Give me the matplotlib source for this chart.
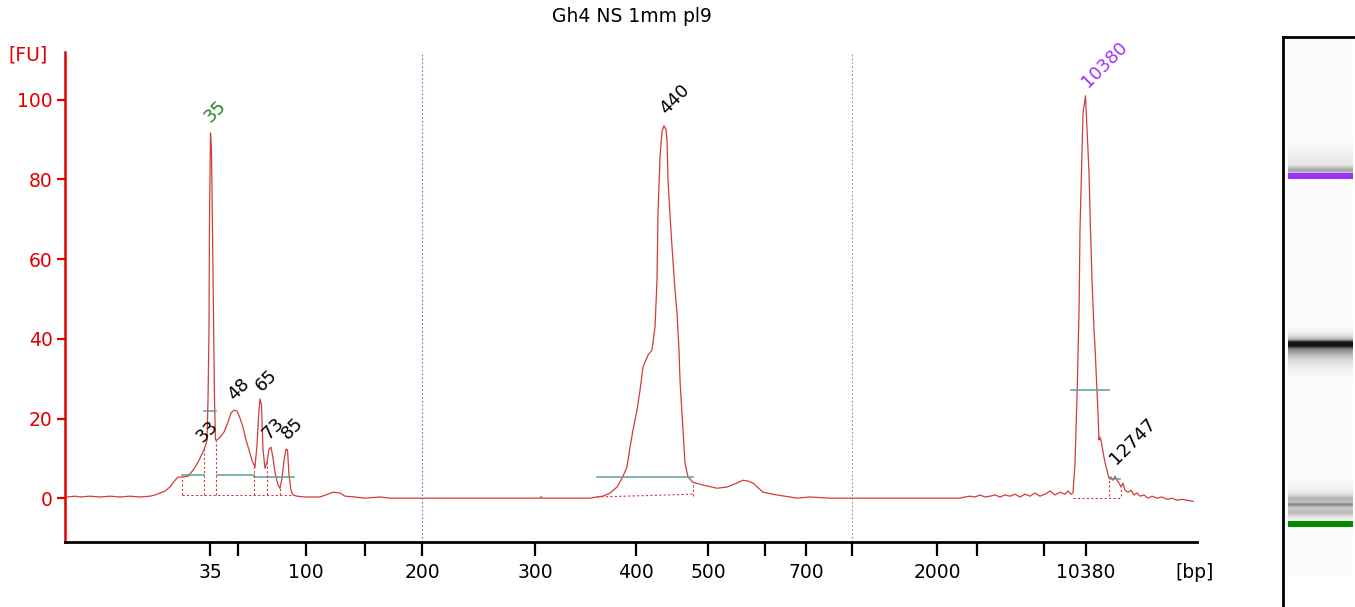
import matplotlib.pyplot as plt
import numpy as np

# electropherogram trace: migration position vs fluorescence [FU]
mig = [67, 75, 80, 90, 100, 110, 120, 130, 140, 150, 155, 160, 165, 170, 175, 178, 183, 188,
       193, 198, 202, 205, 207, 208, 209, 209.5, 210.5, 211.5, 212.5, 213.5, 214.5, 215.5, 217,
       220, 224, 228, 231, 234, 237, 240, 243, 246, 249, 252, 255, 257, 259, 260, 261.5, 263,
       265, 267, 269, 271, 273, 275, 278, 280, 282, 284, 286, 287.5, 289, 291, 293, 297, 305,
       320, 328, 333, 340, 345, 355, 365, 380, 390, 400, 470, 540, 541, 542, 560, 590, 597, 603,
       610, 617, 622, 627, 630, 633, 637, 640, 643, 648, 652, 655, 657, 658, 660, 662, 664,
       666, 667, 668, 670, 672, 675, 677, 679, 680, 682, 684, 685, 688, 693, 703, 717, 727,
       737, 743, 748, 753, 763, 777, 790, 797, 810, 830, 852, 900, 960, 965, 970, 975, 980,
       985, 990, 995, 1000, 1005, 1010, 1015, 1020, 1025, 1030, 1035, 1040, 1045, 1050, 1055,
       1060, 1065, 1068, 1071, 1073, 1075, 1077, 1079, 1080, 1082, 1083, 1085.5, 1087, 1089,
       1090.5, 1092, 1094, 1095, 1097, 1098, 1099, 1100, 1101, 1103, 1105, 1107, 1109, 1111,
       1113, 1115, 1117, 1119, 1121, 1123, 1125, 1128, 1131, 1134, 1137, 1140, 1144, 1148,
       1152, 1157, 1162, 1167, 1172, 1177, 1182, 1187, 1193]
fu = [0.3, 0.5, 0.3, 0.5, 0.3, 0.5, 0.3, 0.5, 0.3, 0.5, 0.8, 1.3, 1.8, 2.8, 4.5, 5.3, 5.3, 5.5,
      7.0, 9.0, 11.1, 12.8, 14.6, 24.6, 42.2, 69.8, 91.7, 87.4, 67.3, 44.7, 24.6, 14.6, 14.6,
      15.3, 16.6, 19.1, 21.4, 22.1, 21.9, 20.1, 17.8, 14.6, 12.1, 9.5, 7.8, 13.3, 22.1, 24.9,
      23.4, 12.1, 7.5, 9.0, 12.3, 12.8, 10.1, 6.5, 3.3, 2.5, 5.0, 9.5, 12.3, 12.1, 5.8, 2.0,
      0.8, 0.5, 0.3, 0.3, 1.0, 1.5, 1.3, 0.5, 0.3, 0.0, 0.3, 0.0, 0.0, 0.0, 0.0, 0.4, 0.0, 0.0,
      0.0, 0.3, 0.5, 1.3, 2.8, 5.0, 7.8, 12.8, 17.1, 22.1, 27.1, 32.9, 35.9, 37.2, 43.0, 54.8,
      71.6, 85.7, 92.0, 93.5, 92.5, 89.9, 79.9, 71.1, 63.1, 52.3, 46.5, 37.2, 29.6, 21.4,
      13.3, 8.8, 5.3, 4.0, 3.3, 2.5, 2.8, 3.8, 4.5, 4.3, 3.8, 1.5, 0.8, 0.3, 0.0, 0.3, 0.0,
      0.0, 0.0, 0.0, 0.3, 0.5, 0.3, 0.8, 0.3, 0.5, 0.8, 0.3, 0.8, 0.5, 1.0, 0.3, 1.0, 0.5,
      1.3, 0.5, 1.0, 1.8, 0.8, 1.5, 1.0, 1.8, 1.0, 1.3, 8.8, 25.4, 46.5, 67.3, 87.4, 96.7,
      101.0, 92.5, 81.7, 67.3, 54.8, 42.2, 37.9, 27.1, 21.4, 14.6, 15.3, 14.6, 11.6, 9.0, 7.0,
      5.0, 5.3, 4.5, 5.5, 4.5, 3.8, 2.8, 3.8, 2.0, 1.5, 2.0, 0.8, 1.3, 0.5, 0.8, 0.0, 0.5, 0.0,
      0.3, -0.3, 0.0, -0.5, -0.3, -0.5, -0.8]

# x axis ticks (migration position -> size label)
tick_pos = [210, 238, 306, 365, 422, 535, 636, 708, 765, 806, 852, 937, 977, 1044, 1086]
tick_lbl = ['35', '', '100', '', '200', '300', '400', '500', '', '700', '', '2000', '', '', '10380']

# peak labels
peak_lbl = ['35', '33', '48', '65', '73', '85', '440', '10380', '12747']
peak_x = [215, 207, 239, 266, 273, 292, 675, 1105, 1133]
peak_y = [97.2, 16.8, 27.4, 29.6, 17.6, 17.6, 100.0, 108.8, 14.3]
peak_col = ['#1a8a1a', 'black', 'black', 'black', 'black', 'black', 'black', '#9933ff', 'black']

# peak region bars (start, end, level)
reg_start = [182, 217, 254, 204, 597, 1071, 1110]
reg_end = [204, 254, 294, 216, 693, 1109, 1120]
reg_level = [5.8, 5.8, 5.4, 21.9, 5.3, 27.1, 4.8]

# dotted baselines (x0, x1, y0, y1) and drop lines
base_x0 = [182, 597, 1073]
base_x1 = [293, 693, 1121]
base_y0 = [0.9, 0.3, 0.0]
base_y1 = [0.9, 1.0, 0.0]
drop_x = [182, 204, 216, 254, 267, 280, 293, 693, 1109, 1121]

# gel lane bands (gray): center, width, darkness
band_c = [133, 124, 307, 309, 316, 468, 468, 462, 476]
band_w = [2.5, 8, 2.0, 6, 10, 9, 1.2, 2, 2]
band_d = [0.3, 0.07, 0.9, 0.35, 0.15, 0.2, 0.25, 0.12, 0.12]

red = '#d23c3c'
plt.rcParams['font.family'] = 'DejaVu Sans'

fig = plt.figure(figsize=(13.55, 6.07), dpi=100)
W, H = 1355, 607
ax = fig.add_axes([65 / W, (H - 542) / H, (1197 - 65) / W, (542 - 52) / H])

ax.plot(mig, fu, color=red, lw=0.9)

for a, b, lv in zip(reg_start, reg_end, reg_level):
    ax.plot([a, b], [lv, lv], color='#5a9e94', lw=1.1)

for a, b, y0, y1 in zip(base_x0, base_x1, base_y0, base_y1):
    ax.plot([a, b], [y0, y1], color=red, lw=0.8, ls=(0, (2, 2)))
for d in drop_x:
    top = np.interp(d, mig, fu)
    ax.plot([d, d], [0.9 if d < 400 else 0.5, top], color=red, lw=0.8, ls=(0, (2, 2)))

ax.axvline(422, color='#7070d0', lw=0.8, ls=(0, (1.5, 2)))
ax.axvline(852, color='#909090', lw=0.8, ls=(0, (1.5, 2)))

for t, x, y, c in zip(peak_lbl, peak_x, peak_y, peak_col):
    ax.text(x, y, t, rotation=45, ha='center', va='center', rotation_mode='anchor',
            color=c, fontsize=13)

ax.set_xlim(65, 1197)
ax.set_ylim(-11, 112)
ax.set_yticks([0, 20, 40, 60, 80, 100])
ax.set_xticks(tick_pos)
ax.set_xticklabels(tick_lbl)
ax.spines['top'].set_visible(False)
ax.spines['right'].set_visible(False)
ax.spines['left'].set_color('#e00000')
ax.spines['left'].set_linewidth(1.8)
ax.spines['bottom'].set_linewidth(2)
ax.tick_params(axis='y', colors='#e00000', labelcolor='#e00000', length=6, width=1.6,
               labelsize=13.5, pad=3)
ax.tick_params(axis='x', colors='black', length=10, width=1.6, labelsize=13.5, pad=5)

fig.text(28 / W, 1 - 55 / H, '[FU]', color='#e00000', fontsize=13.5, ha='center', va='center')
fig.text(1195 / W, 1 - 572 / H, '[bp]', color='black', fontsize=13.5, ha='center', va='center')
fig.text(632 / W, 1 - 17 / H, 'Gh4 NS 1mm pl9', color='black', fontsize=13.5,
         ha='center', va='center')

# gel lane
gax = fig.add_axes([1283 / W, 0, (W - 1283) / W, (H - 37) / H])
gax.set_xlim(0, 72)
gax.set_ylim(570, 0)
yy = np.arange(0, 541)
prof = np.full(yy.shape, 0.985)
for c, w, d in zip(band_c, band_w, band_d):
    prof -= d * np.exp(-0.5 * ((yy - c) / w) ** 2)
prof = np.clip(prof, 0.08, 1)
img = np.repeat(prof[:, None, None], 3, axis=2)
gax.imshow(img, extent=[5, 70, 540, 0], aspect='auto', interpolation='bilinear')
gax.fill_between([5, 70], 136, 142, color='#9b30ff', lw=0)
gax.fill_between([5, 70], 484, 490, color='#008a00', lw=0)
gax.set_xticks([])
gax.set_yticks([])
gax.spines['right'].set_visible(False)
gax.spines['bottom'].set_visible(False)
gax.spines['left'].set_linewidth(2)
gax.spines['top'].set_linewidth(2)

fig.savefig('out.png', dpi=100)
